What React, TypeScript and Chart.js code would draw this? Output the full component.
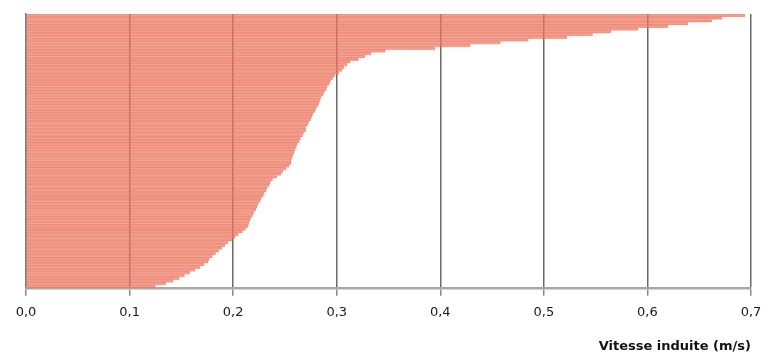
import React, { useEffect, useRef } from "react";
import { Chart, registerables } from "chart.js";

Chart.register(...registerables);

// One bar per sample, ordered from the top bar (largest) to the bottom bar (smallest)
const categories: string[] = Array.from({ length: 100 }, (_, i) => `S${i + 1}`);

const vitesse: number[] = [
  0.694, 0.672, 0.662, 0.639, 0.62, 0.591, 0.565, 0.547, 0.522, 0.485,
  0.458, 0.429, 0.395, 0.347, 0.333, 0.327, 0.321, 0.313, 0.31, 0.307,
  0.305, 0.302, 0.298, 0.296, 0.294, 0.293, 0.291, 0.29, 0.288, 0.287,
  0.285, 0.284, 0.283, 0.282, 0.28, 0.279, 0.277, 0.276, 0.275, 0.273,
  0.272, 0.27, 0.27, 0.268, 0.267, 0.265, 0.264, 0.262, 0.261, 0.26,
  0.259, 0.258, 0.257, 0.256, 0.256, 0.254, 0.251, 0.248, 0.246, 0.242,
  0.238, 0.236, 0.235, 0.233, 0.232, 0.23, 0.229, 0.227, 0.226, 0.224,
  0.223, 0.222, 0.22, 0.219, 0.217, 0.216, 0.215, 0.214, 0.212, 0.209,
  0.205, 0.202, 0.199, 0.195, 0.192, 0.189, 0.186, 0.183, 0.18, 0.177,
  0.176, 0.172, 0.168, 0.163, 0.158, 0.153, 0.148, 0.142, 0.135, 0.125,
];

const xTicks: number[] = [0, 0.1, 0.2, 0.3, 0.4, 0.5, 0.6, 0.7];
const xTitle = "Vitesse induite (m/s)";

export default function App() {
  const ref = useRef<HTMLCanvasElement | null>(null);

  useEffect(() => {
    document.body.style.margin = "0";
    if (!ref.current) return;
    const chart = new Chart(ref.current, {
      type: "bar",
      data: {
        labels: categories,
        datasets: [
          {
            data: vitesse,
            backgroundColor: "rgba(242,123,99,0.68)",
            borderColor: "rgba(222,105,85,0.55)",
            borderWidth: 0.6,
            borderSkipped: "start",
            barPercentage: 1,
            categoryPercentage: 1,
          },
        ],
      },
      options: {
        indexAxis: "y",
        animation: false,
        responsive: false,
        maintainAspectRatio: false,
        layout: { padding: { top: 14, right: 24, left: 26, bottom: 0 } },
        plugins: { legend: { display: false }, tooltip: { enabled: false } },
        scales: {
          y: {
            display: true,
            ticks: { display: false },
            grid: { display: false, drawTicks: false },
            border: { display: true, color: "#7a7a7a", width: 1.5 },
          },
          x: {
            min: 0,
            max: 0.7,
            afterBuildTicks: (scale: any) => {
              scale.ticks = xTicks.map((v) => ({ value: v }));
            },
            ticks: {
              padding: 9,
              color: "#1a1a1a",
              font: { family: "DejaVu Sans", size: 13 },
              maxRotation: 0,
              callback: (v: any) => Number(v).toFixed(1).replace(".", ","),
            },
            grid: {
              color: "#6a6a6a",
              lineWidth: 1.5,
              tickLength: 8,
              tickColor: "#8a8a8a",
            },
            border: { display: true, color: "#a8a8a8", width: 2.5 },
            title: {
              display: true,
              text: xTitle,
              align: "end",
              color: "#111111",
              font: { family: "DejaVu Sans", size: 13, weight: "bold" },
              padding: { top: 9, bottom: 0 },
            },
          },
        },
      },
    });
    return () => chart.destroy();
  }, []);

  return (
    <div style={{ width: 775, height: 354, background: "#ffffff" }}>
      <canvas ref={ref} width={775} height={354} style={{ display: "block" }} />
    </div>
  );
}
